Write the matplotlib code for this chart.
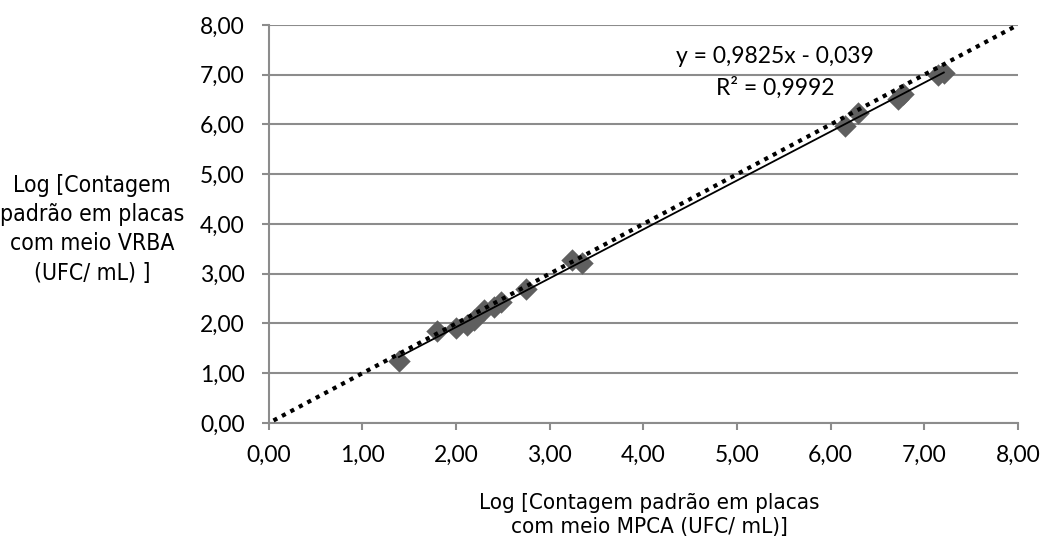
import matplotlib
matplotlib.use("Agg")
import matplotlib.pyplot as plt
import numpy as np
from matplotlib import font_manager

# Data
x_mpca = [1.39, 1.80, 2.00, 2.12, 2.19, 2.30, 2.41, 2.48, 2.75, 3.24, 3.35,
          6.15, 6.29, 6.72, 6.77, 7.15, 7.21]
y_vrba = [1.24, 1.84, 1.90, 1.96, 2.07, 2.27, 2.33, 2.43, 2.70, 3.28, 3.22,
          5.96, 6.24, 6.52, 6.62, 6.99, 7.03]
slope = 0.9825
intercept = -0.039
eq_text = "y = 0,9825x - 0,039"
r2_text = "R² = 0,9992"
ticks = [0, 1, 2, 3, 4, 5, 6, 7, 8]
tick_labels = ["0,00", "1,00", "2,00", "3,00", "4,00", "5,00", "6,00", "7,00", "8,00"]
xlabel = "Log [Contagem padrão em placas\ncom meio MPCA (UFC/ mL)]"
ylabel = "Log [Contagem\npadrão em placas\ncom meio VRBA\n(UFC/ mL) ]"

avail = {f.name for f in font_manager.fontManager.ttflist}
tick_font = "Lato" if "Lato" in avail else "DejaVu Sans"

fig = plt.figure(figsize=(10.46, 5.42), dpi=100)
ax = fig.add_axes([0.257, 0.2196, 0.716, 0.7343])

ax.set_xlim(0, 8)
ax.set_ylim(0, 8)
ax.set_xticks(ticks)
ax.set_yticks(ticks)
ax.set_xticklabels(tick_labels, fontfamily=tick_font, fontsize=16.5)
ax.set_yticklabels(tick_labels, fontfamily=tick_font, fontsize=16.5)

ax.grid(axis="y", color="#8c8c8c", linewidth=1.5, zorder=0)
ax.set_axisbelow(True)
for s in ["top", "right"]:
    ax.spines[s].set_visible(False)
for s in ["left", "bottom"]:
    ax.spines[s].set_color("#8c8c8c")
    ax.spines[s].set_linewidth(1.5)
ax.tick_params(axis="both", direction="out", length=5, width=1.5, color="#8c8c8c",
               labelcolor="black")
ax.tick_params(axis="x", pad=10.5)
ax.tick_params(axis="y", pad=12.5)

ax.scatter(x_mpca, y_vrba, marker="D", s=130, color="#5f5f5f", zorder=3, linewidths=0)

# Fitted line over the data range
xf = np.array([min(x_mpca), max(x_mpca)])
ax.plot(xf, slope * xf + intercept, color="black", linewidth=1.3, zorder=4)

# Dotted reference line across the axis
xr = np.array([0.05, 7.98])
ax.plot(xr, xr, color="black", linewidth=3, linestyle=(0, (1, 1.3)), zorder=5)

ax.text(5.41, 7.36, eq_text, ha="center", va="center", fontsize=16.5, fontfamily=tick_font)
ax.text(5.41, 6.74, r2_text, ha="center", va="center", fontsize=16.5, fontfamily=tick_font)

fig.text(0.088, 0.577, ylabel, ha="center", va="center", fontsize=16.5,
         fontfamily="DejaVu Sans", fontstretch="condensed", linespacing=1.35)
fig.text(0.621, 0.050, xlabel, ha="center", va="center", fontsize=16,
         fontfamily="DejaVu Sans", fontstretch="condensed", linespacing=1.25)

fig.savefig("out.png", dpi=100)
